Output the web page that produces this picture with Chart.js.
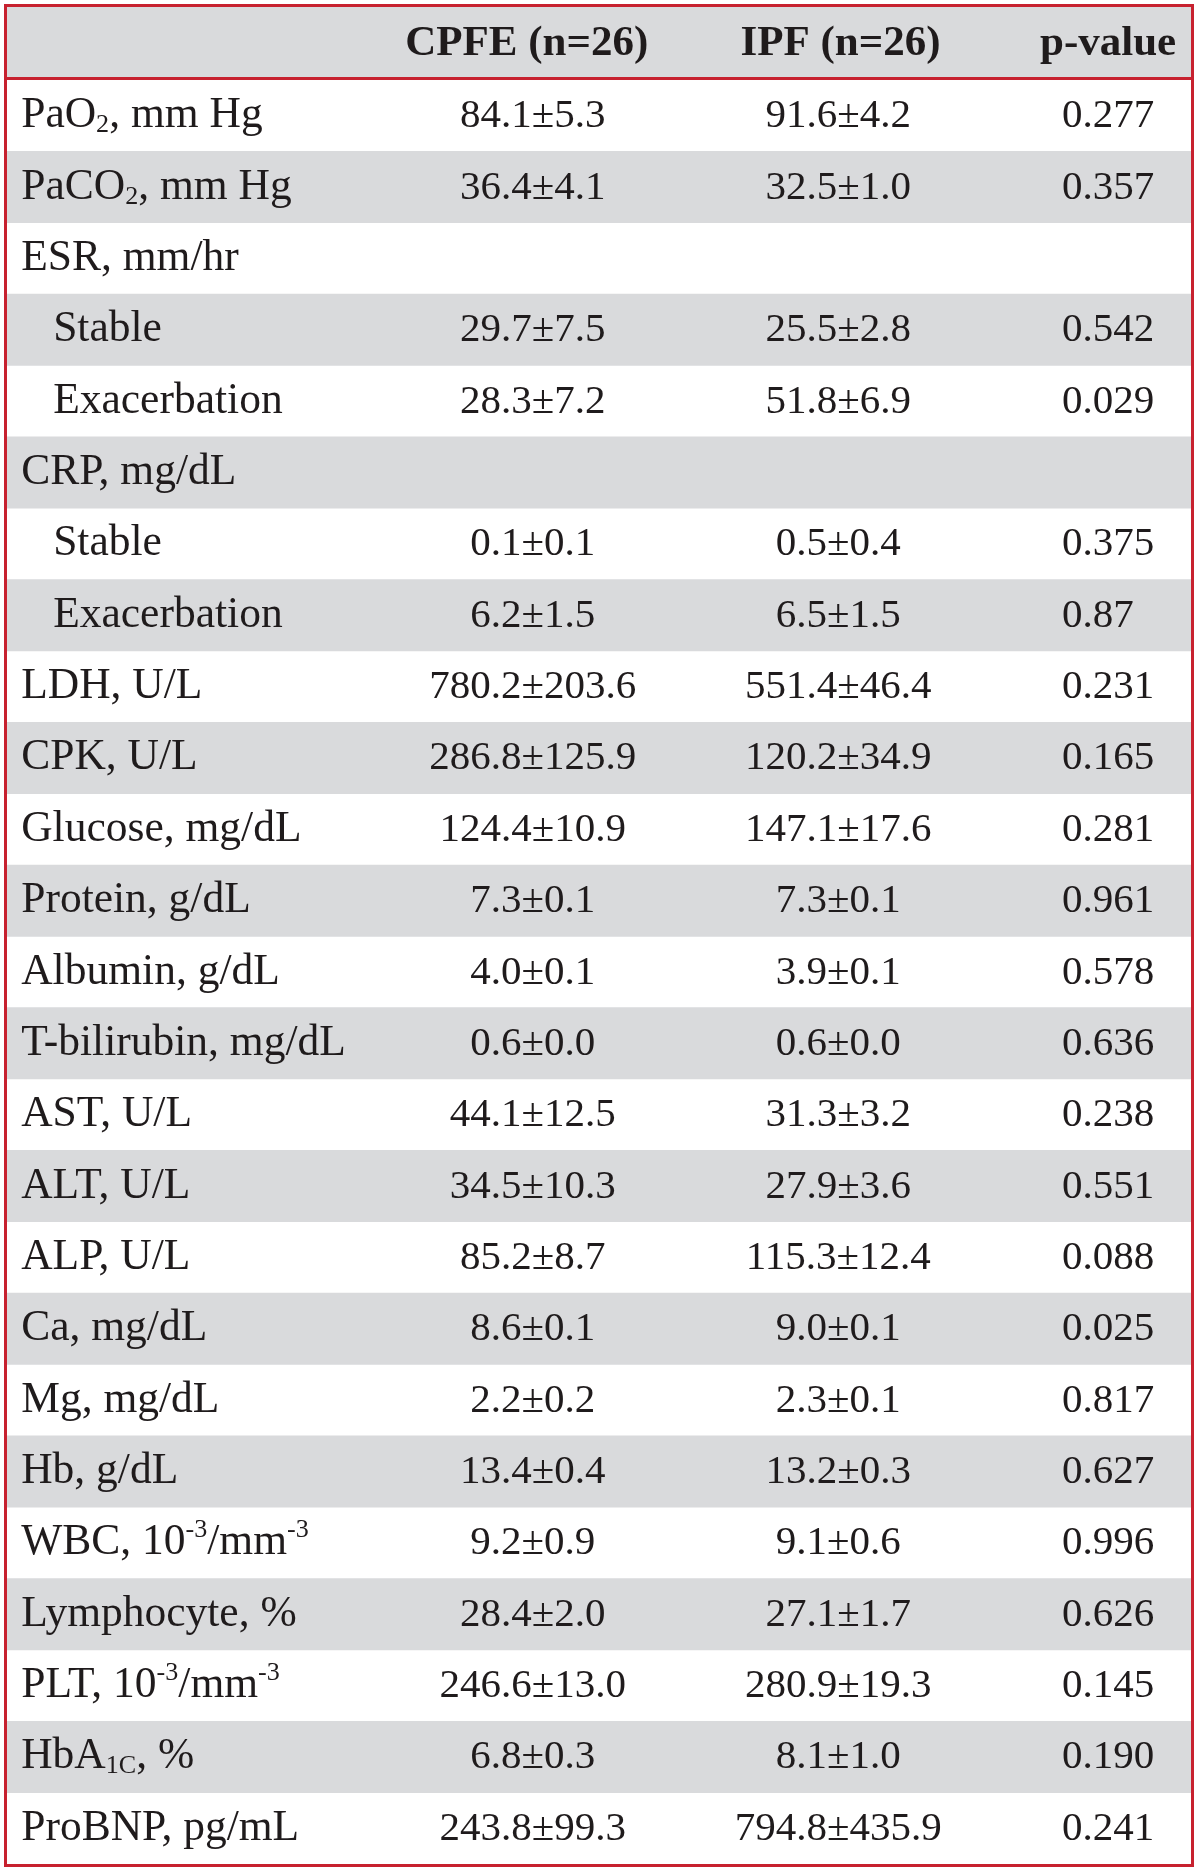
<!DOCTYPE html>
<html>
<head>
<meta charset="utf-8">
<script src="https://cdn.jsdelivr.net/npm/chart.js@4.4.1/dist/chart.umd.min.js"></script>
<style>
  html, body { margin: 0; padding: 0; background: #fff; }
  canvas { display: block; }
</style>
</head>
<body>
<canvas id="chart" width="1200" height="1871"></canvas>
<script>
// table content
const headers = ['CPFE (n=26)', 'IPF (n=26)', 'p-value'];

// _{..} = subscript, ^{..} = superscript
const rowLabels = [
    'PaO_{2}, mm Hg', 'PaCO_{2}, mm Hg', 'ESR, mm/hr', 'Stable', 'Exacerbation',
    'CRP, mg/dL', 'Stable', 'Exacerbation', 'LDH, U/L', 'CPK, U/L',
    'Glucose, mg/dL', 'Protein, g/dL', 'Albumin, g/dL', 'T-bilirubin, mg/dL', 'AST, U/L',
    'ALT, U/L', 'ALP, U/L', 'Ca, mg/dL', 'Mg, mg/dL', 'Hb, g/dL',
    'WBC, 10^{-3}/mm^{-3}', 'Lymphocyte, %', 'PLT, 10^{-3}/mm^{-3}', 'HbA_{1C}, %', 'ProBNP, pg/mL'
];
const rowIndent = [0, 0, 0, 1, 1, 0, 1, 1, 0, 0, 0, 0, 0, 0, 0, 0, 0, 0, 0, 0, 0, 0, 0, 0, 0];

const cpfeMean = [84.1, 36.4, null, 29.7, 28.3, null, 0.1, 6.2, 780.2, 286.8, 124.4, 7.3, 4.0, 0.6, 44.1, 34.5, 85.2, 8.6, 2.2, 13.4, 9.2, 28.4, 246.6, 6.8, 243.8];
const cpfeSd   = [5.3, 4.1, null, 7.5, 7.2, null, 0.1, 1.5, 203.6, 125.9, 10.9, 0.1, 0.1, 0.0, 12.5, 10.3, 8.7, 0.1, 0.2, 0.4, 0.9, 2.0, 13.0, 0.3, 99.3];
const ipfMean  = [91.6, 32.5, null, 25.5, 51.8, null, 0.5, 6.5, 551.4, 120.2, 147.1, 7.3, 3.9, 0.6, 31.3, 27.9, 115.3, 9.0, 2.3, 13.2, 9.1, 27.1, 280.9, 8.1, 794.8];
const ipfSd    = [4.2, 1.0, null, 2.8, 6.9, null, 0.4, 1.5, 46.4, 34.9, 17.6, 0.1, 0.1, 0.0, 3.2, 3.6, 12.4, 0.1, 0.1, 0.3, 0.6, 1.7, 19.3, 1.0, 435.9];
const pValues  = ['0.277', '0.357', null, '0.542', '0.029', null, '0.375', '0.87', '0.231', '0.165', '0.281', '0.961', '0.578', '0.636', '0.238', '0.551', '0.088', '0.025', '0.817', '0.627', '0.996', '0.626', '0.145', '0.190', '0.241'];

// column anchors on the x scale (0..100 across the table)
const colX = { label: 1.2, indent: 3.9, cpfe: 44.4, ipf: 70.2, pLeft: 89.1, cpfeHead: 43.9, ipfHead: 70.4, pHead: 93.0 };

const FONT = '"Liberation Serif", "Times New Roman", serif';
const TEXT = '#1f1b1c';
const GRAY = '#d9dadc';
const RED = '#c7212f';
const SIZE = 41;
const LABEL_SIZE = 43.5;

function fmt(m, s) {
    return m.toFixed(1) + '\u00b1' + s.toFixed(1);
}

// draws text with _{sub} / ^{sup} pieces, left aligned at x, baseline y
function drawRich(ctx, str, x, y, size, weight) {
    let parts = str.split(/(_\{[^}]*\}|\^\{[^}]*\})/).filter(p => p.length);
    let cx = x;
    parts.forEach((p) => {
        let sz = size, dy = 0, txt = p;
        if (p.startsWith('_{')) { sz = size * 0.6; dy = 5; txt = p.slice(2, -1); }
        else if (p.startsWith('^{')) { sz = size * 0.6; dy = -17; txt = p.slice(2, -1); }
        ctx.font = weight + ' ' + sz + 'px ' + FONT;
        ctx.fillText(txt, cx, y + dy);
        cx += ctx.measureText(txt).width;
    });
}

const tablePlugin = {
    id: 'tableText',
    beforeDatasetsDraw(chart) {
        const ctx = chart.ctx, a = chart.chartArea;
        ctx.save();
        ctx.fillStyle = GRAY;
        ctx.fillRect(a.left - 2, 5, a.right - a.left + 4, a.top - 5);
        ctx.restore();
    },
    afterDatasetsDraw(chart) {
        const ctx = chart.ctx, a = chart.chartArea;
        const x = chart.scales.x, y = chart.scales.y;
        ctx.save();
        ctx.fillStyle = TEXT;
        ctx.textBaseline = 'alphabetic';

        // header
        const hb = 55;
        ctx.font = 'bold 43px ' + FONT;
        ctx.textAlign = 'center';
        ctx.fillText(headers[0], x.getPixelForValue(colX.cpfeHead), hb);
        ctx.fillText(headers[1], x.getPixelForValue(colX.ipfHead), hb);
        ctx.fillText(headers[2], x.getPixelForValue(colX.pHead), hb);

        // body
        rowLabels.forEach((lab, i) => {
            const base = y.getPixelForValue(i) + 11.5;
            ctx.textAlign = 'left';
            drawRich(ctx, lab, x.getPixelForValue(rowIndent[i] ? colX.indent : colX.label), base, LABEL_SIZE, 'normal');
            ctx.font = SIZE + 'px ' + FONT;
            if (cpfeMean[i] !== null) {
                ctx.textAlign = 'center';
                ctx.fillText(fmt(cpfeMean[i], cpfeSd[i]), x.getPixelForValue(colX.cpfe), base);
                ctx.fillText(fmt(ipfMean[i], ipfSd[i]), x.getPixelForValue(colX.ipf), base);
            }
            if (pValues[i] !== null) {
                ctx.textAlign = 'left';
                ctx.fillText(pValues[i], x.getPixelForValue(colX.pLeft), base);
            }
        });

        // red rules
        ctx.strokeStyle = RED;
        ctx.lineWidth = 3;
        ctx.beginPath();
        ctx.moveTo(5, a.top - 1.5);
        ctx.lineTo(1193, a.top - 1.5);
        ctx.stroke();
        ctx.strokeRect(5.5, 5.5, 1187, a.bottom - 4);
        ctx.restore();
    }
};

new Chart(document.getElementById('chart'), {
    type: 'bar',
    data: {
        labels: rowLabels,
        datasets: [{
            // alternate rows get the gray band
            data: rowLabels.map((l, i) => i % 2 ? [0, 100] : null),
            backgroundColor: GRAY,
            borderWidth: 0,
            barPercentage: 1,
            categoryPercentage: 1,
        }]
    },
    options: {
        indexAxis: 'y',
        responsive: false,
        animation: false,
        layout: { padding: { left: 7, right: 9, top: 80, bottom: 7 } },
        scales: {
            x: { type: 'linear', min: 0, max: 100, display: false },
            y: { type: 'category', display: false },
        },
        plugins: { legend: { display: false }, tooltip: { enabled: false } },
    },
    plugins: [tablePlugin]
});
</script>
</body>
</html>
